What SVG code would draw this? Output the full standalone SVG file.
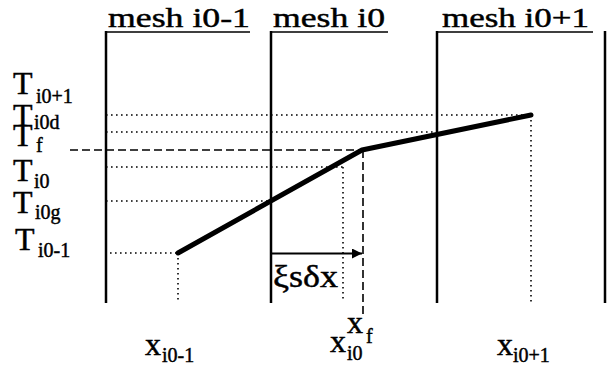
<svg xmlns="http://www.w3.org/2000/svg" width="610" height="366" viewBox="0 0 610 366">
<defs>
<style>
text{font-family:"Liberation Serif","Times New Roman",serif;fill:#000;stroke:#000;stroke-width:0.45}
.hd{font-size:27px}
.big{font-size:32px}
.sub{font-size:20px}
.mesh{stroke:#000;stroke-width:2.5;fill:none}
.ul{stroke:#000;stroke-width:1.6;fill:none}
.dot{stroke:#000;stroke-width:1.6;stroke-dasharray:1.6 3.4;fill:none}
.dash{stroke:#000;stroke-width:1.6;stroke-dasharray:8 4;fill:none}
.curve{stroke:#000;stroke-width:5;fill:none;stroke-linecap:round;stroke-linejoin:round}
</style>
<marker id="ah" markerWidth="10" markerHeight="10" refX="10" refY="5" orient="auto" markerUnits="userSpaceOnUse">
<path d="M0,0 L10,5 L0,10 Z" fill="#000"/>
</marker>
</defs>
<rect width="610" height="366" fill="#fff"/>

<g id="headers">
<text class="hd" x="108" y="27" textLength="142" lengthAdjust="spacingAndGlyphs">mesh i0-1</text>
<text class="hd" x="273" y="27" textLength="112" lengthAdjust="spacingAndGlyphs">mesh i0</text>
<text class="hd" x="442" y="27" textLength="147" lengthAdjust="spacingAndGlyphs">mesh i0+1</text>
<path class="ul" d="M105,32 H250 M270,32 H388 M437,32 H593"/>
</g>

<g id="mesh-lines">
<path class="mesh" d="M106,31 V303 M271,31 V303 M437,31 V303 M605,31 V303"/>
</g>

<g id="connectors">
<path class="dot" d="M106,115 H531 M106,132 H437 M106,167 H343 M106,201 H271 M110,253 H178"/>
<path class="dot" d="M178,253 V303 M343,167 V300 M531,115 V304"/>
<path class="dash" d="M70,150 H362 M363,150 V318"/>
<path class="curve" d="M178,253 L362,150 L531,115"/>
<path d="M271,253.5 H362" stroke="#000" stroke-width="1.8" fill="none" marker-end="url(#ah)"/>
</g>

<g id="y-labels">
<text class="big" x="13" y="94">T</text><text class="sub" x="36" y="103">i0+1</text>
<text class="big" x="13" y="126">T</text><text class="sub" x="34" y="129">i0d</text>
<text class="big" x="13" y="146">T</text><text class="sub" x="36" y="152">f</text>
<text class="big" x="13" y="181">T</text><text class="sub" x="34" y="188">i0</text>
<text class="big" x="13" y="213">T</text><text class="sub" x="35" y="219">i0g</text>
<text class="big" x="15" y="250">T</text><text class="sub" x="38" y="257">i0-1</text>
</g>

<g id="x-labels">
<text class="big" x="145" y="355">x</text><text class="sub" x="162" y="362">i0-1</text>
<text class="big" x="330" y="352">x</text><text class="sub" x="347" y="360">i0</text>
<text class="big" x="347" y="333">x</text><text class="sub" x="366" y="343">f</text>
<text class="big" x="497" y="355">x</text><text class="sub" x="513" y="362">i0+1</text>
</g>

<g id="shift-label">
<text class="big" x="273" y="287" font-size="34" textLength="65" lengthAdjust="spacingAndGlyphs">ξsδx</text>
</g>
</svg>
